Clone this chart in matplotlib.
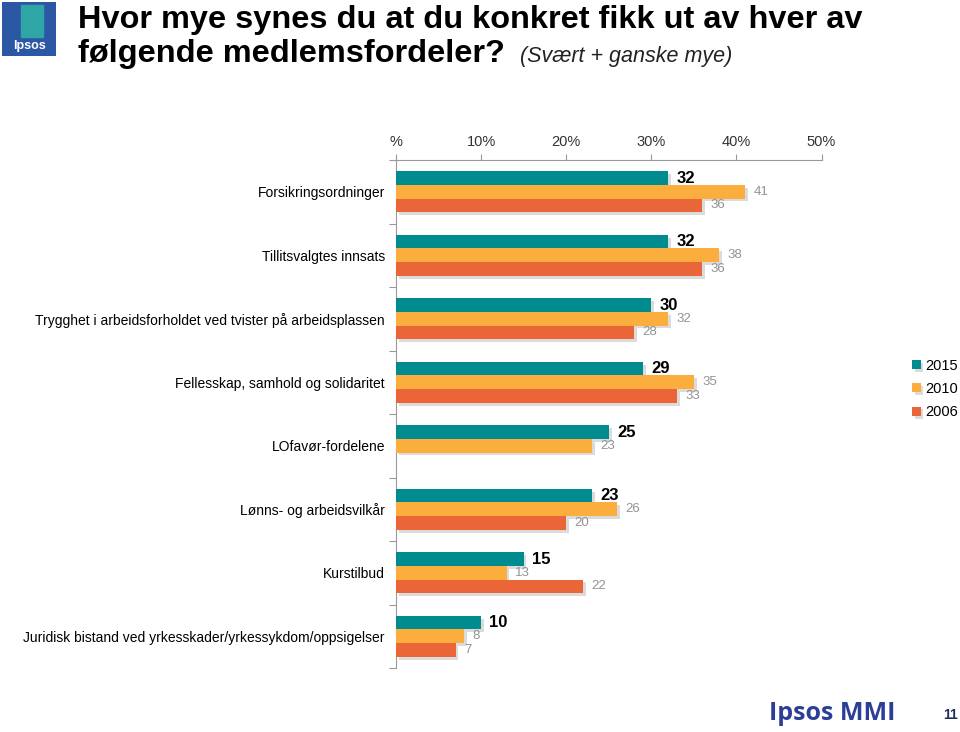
import matplotlib
matplotlib.use("Agg")
import matplotlib.pyplot as plt
import matplotlib.patheffects as pe
from matplotlib.patches import Rectangle
import numpy as np

categories = [
    "Forsikringsordninger",
    "Tillitsvalgtes innsats",
    "Trygghet i arbeidsforholdet ved tvister på arbeidsplassen",
    "Fellesskap, samhold og solidaritet",
    "LOfavør-fordelene",
    "Lønns- og arbeidsvilkår",
    "Kurstilbud",
    "Juridisk bistand ved yrkesskader/yrkessykdom/oppsigelser",
]
v2015 = [32, 32, 30, 29, 25, 23, 15, 10]
v2010 = [41, 38, 32, 35, 23, 26, 13, 8]
v2006 = [36, 36, 28, 33, np.nan, 20, 22, 7]
series_names = ["2015", "2010", "2006"]
xticks = [0, 10, 20, 30, 40, 50]
xticklabels = ["%", "10%", "20%", "30%", "40%", "50%"]

colors = ["#008B8E", "#FBAD3D", "#EA6638"]

plt.rcParams['font.family'] = ['Liberation Sans', 'DejaVu Sans']

fig = plt.figure(figsize=(9.6, 7.32), dpi=100)
ax = fig.add_axes([396/960, 1-668/732, (821.5-396)/960, (668-160)/732])

y = np.arange(len(categories))
h = 0.215
shadow = [pe.SimplePatchShadow(offset=(2, -2), shadow_rgbFace='#999999', alpha=0.35), pe.Normal()]
series = [v2015, v2010, v2006]
offs = [-h, 0, h]
for k, (vals, off, c, name) in enumerate(zip(series, offs, colors, series_names)):
    vals_arr = np.array(vals, dtype=float)
    mask = ~np.isnan(vals_arr)
    bars = ax.barh(y[mask] + off, vals_arr[mask], height=h, color=c, label=name, zorder=3)
    for b in bars:
        b.set_path_effects(shadow)
    for yi, v in zip(y[mask] + off, vals_arr[mask]):
        if k == 0:
            ax.annotate(f"{int(v)}", (v, yi), xytext=(6, 0), textcoords='offset points',
                        va='center', ha='left', fontsize=12, fontweight='bold', color='black')
        else:
            ax.annotate(f"{int(v)}", (v, yi), xytext=(6, 0), textcoords='offset points',
                        va='center', ha='left', fontsize=9.5, color='#939393')

ax.set_xlim(0, 50)
ax.set_ylim(len(categories) - 0.5, -0.5)
ax.xaxis.tick_top()
ax.set_xticks(xticks)
ax.set_xticklabels(xticklabels, fontsize=10.5, color='#333333')
ax.tick_params(axis='x', direction='out', length=4, color='#999999', pad=4)
ax.set_yticks(np.arange(len(categories) + 1) - 0.5, minor=False)
ax.set_yticklabels([])
ax.tick_params(axis='y', which='major', direction='out', length=5, color='#999999')
ax.set_yticks(y, minor=True)
ax.set_yticklabels(categories, minor=True, fontsize=10, color='black')
ax.tick_params(axis='y', which='minor', length=0, pad=8)
for s in ['right', 'bottom']:
    ax.spines[s].set_visible(False)
ax.spines['top'].set_color('#999999')
ax.spines['left'].set_color('#999999')

# legend
handles, labels = ax.get_legend_handles_labels()
fig.legend(handles, labels, loc='center left', bbox_to_anchor=(906/960, 1-389/732),
           frameon=False, fontsize=10.5, handlelength=0.6, handleheight=0.6,
           handletextpad=0.3, labelspacing=0.65, borderaxespad=0)

# title
fig.text(78/960, 1-28/732, "Hvor mye synes du at du konkret fikk ut av hver av",
         fontsize=23.4, fontweight='bold', va='baseline', ha='left')
fig.text(78/960, 1-62/732, "følgende medlemsfordeler?",
         fontsize=23.4, fontweight='bold', va='baseline', ha='left')
fig.text(520/960, 1-62/732, "(Svært + ganske mye)", fontsize=15.5, style='italic',
         va='baseline', ha='left', color='#222222')

# logo top-left
logo_ax = fig.add_axes([2/960, 1-56/732, 54/960, 54/732])
logo_ax.set_xlim(0, 1); logo_ax.set_ylim(0, 1); logo_ax.axis('off')
logo_ax.add_patch(Rectangle((0, 0), 1, 1, color='#2B57A5'))
logo_ax.add_patch(Rectangle((0.35, 0.35), 0.4, 0.6, color='#2EA6A6'))
logo_ax.text(0.5, 0.18, "Ipsos", color='white', fontsize=9, fontweight='bold', ha='center', va='center')

# footer
fig.text(895/960, 1-713/732, "Ipsos MMI", fontsize=18, fontweight='bold', color='#2B3F96',
         ha='right', va='center', family=['Open Sans', 'DejaVu Sans'])
fig.text(958/960, 1-715/732, "11", fontsize=10, fontweight='bold', color='#1F2E5A',
         ha='right', va='center')

fig.savefig("out.png", dpi=100)
